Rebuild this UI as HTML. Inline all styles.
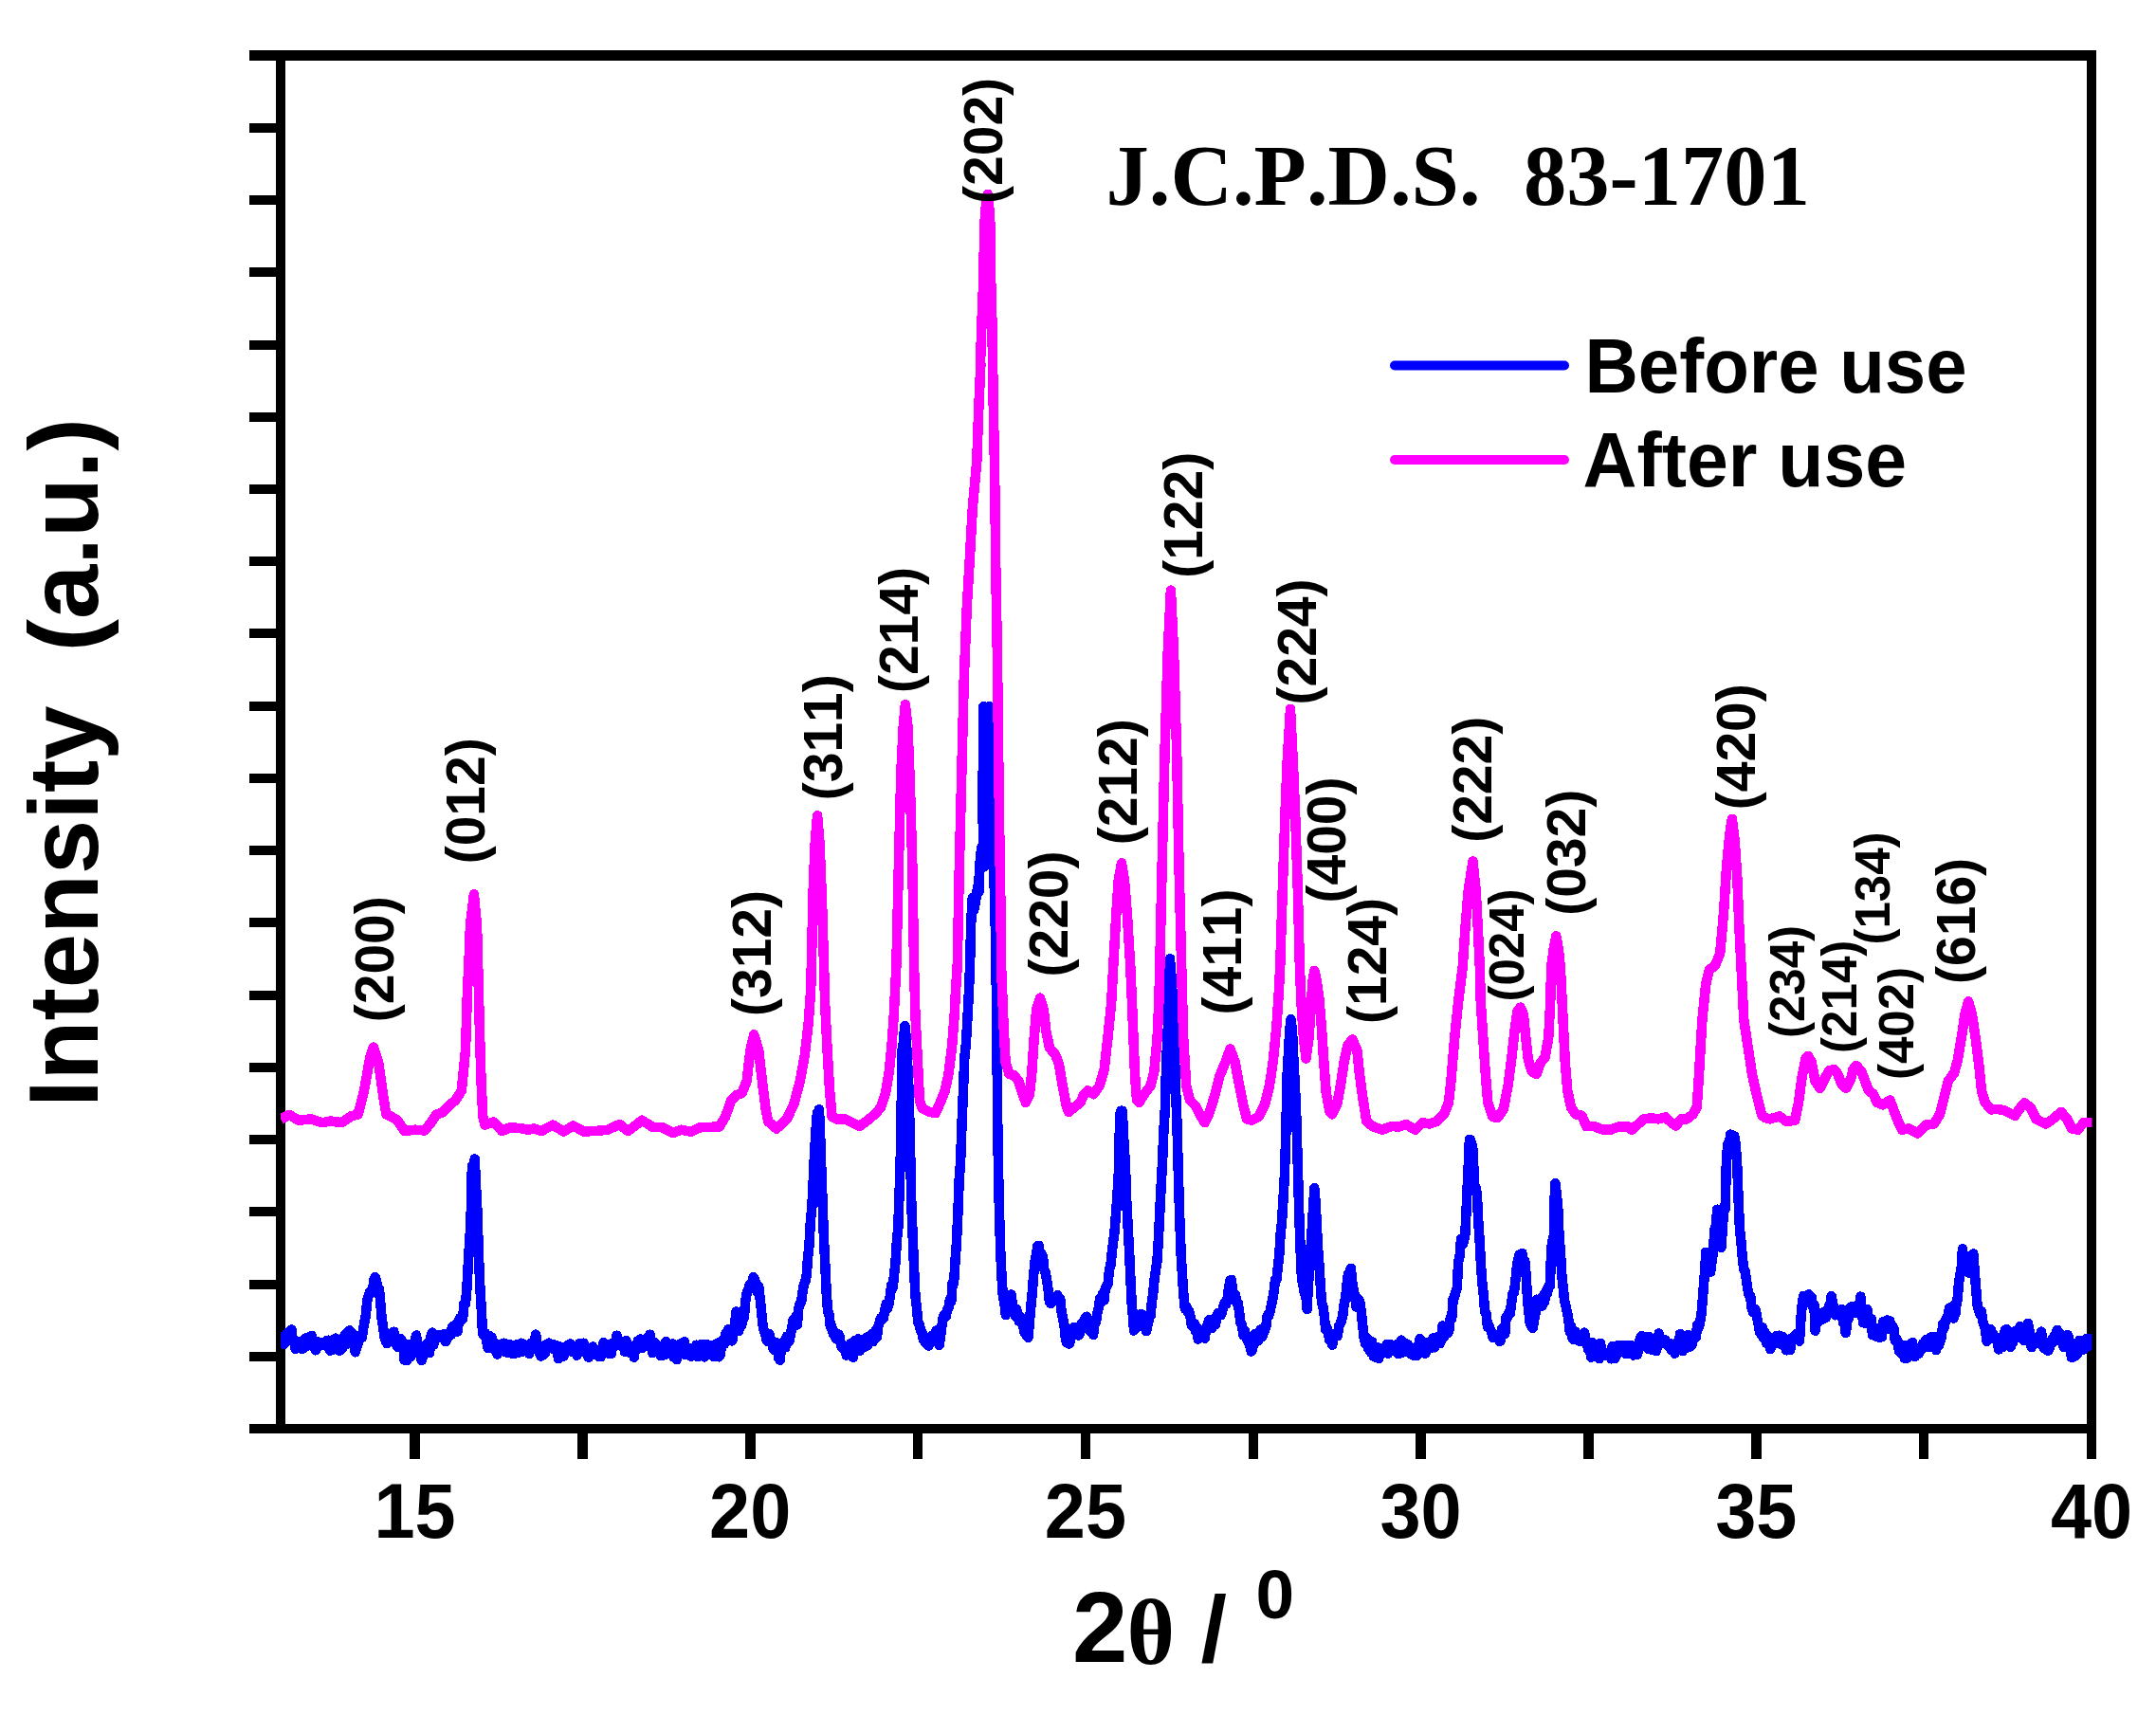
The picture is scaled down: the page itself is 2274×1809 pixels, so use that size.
<!DOCTYPE html>
<html lang="en"><head><meta charset="utf-8"><title>XRD pattern</title>
<style>html,body{margin:0;padding:0;background:#fff;overflow:hidden}svg{display:block}text{font-kerning:none}.a{font-family:"Liberation Sans",Arial,Helvetica,sans-serif;font-weight:bold;fill:#000}.s{font-family:"Liberation Serif","Times New Roman",Times,serif;font-weight:bold;fill:#000}</style></head><body>
<svg width="2274" height="1809" viewBox="0 0 2274 1809">
<rect width="2274" height="1809" fill="#fff"/>
<g fill="#000" shape-rendering="crispEdges">
<rect x="263" y="53" width="1948" height="11"/>
<rect x="263" y="1502" width="1948" height="10"/>
<rect x="291" y="53" width="10" height="1459"/>
<rect x="2201" y="53" width="10" height="1486"/>
<rect x="263" y="129.7" width="30" height="10"/>
<rect x="263" y="206.0" width="30" height="10"/>
<rect x="263" y="282.2" width="30" height="10"/>
<rect x="263" y="358.5" width="30" height="10"/>
<rect x="263" y="434.7" width="30" height="10"/>
<rect x="263" y="510.9" width="30" height="10"/>
<rect x="263" y="587.2" width="30" height="10"/>
<rect x="263" y="663.4" width="30" height="10"/>
<rect x="263" y="739.7" width="30" height="10"/>
<rect x="263" y="815.9" width="30" height="10"/>
<rect x="263" y="892.1" width="30" height="10"/>
<rect x="263" y="968.4" width="30" height="10"/>
<rect x="263" y="1044.6" width="30" height="10"/>
<rect x="263" y="1120.9" width="30" height="10"/>
<rect x="263" y="1197.1" width="30" height="10"/>
<rect x="263" y="1273.3" width="30" height="10"/>
<rect x="263" y="1349.6" width="30" height="10"/>
<rect x="263" y="1425.8" width="30" height="10"/>
<rect x="432.3" y="1507" width="10.5" height="32"/>
<rect x="609.1" y="1507" width="10.5" height="32"/>
<rect x="786.0" y="1507" width="10.5" height="32"/>
<rect x="962.8" y="1507" width="10.5" height="32"/>
<rect x="1139.7" y="1507" width="10.5" height="32"/>
<rect x="1316.5" y="1507" width="10.5" height="32"/>
<rect x="1493.4" y="1507" width="10.5" height="32"/>
<rect x="1670.2" y="1507" width="10.5" height="32"/>
<rect x="1847.1" y="1507" width="10.5" height="32"/>
<rect x="2023.9" y="1507" width="10.5" height="32"/>
</g>
<clipPath id="cp"><rect x="296" y="64" width="1910.5" height="1438"/></clipPath><g clip-path="url(#cp)">
<polyline fill="none" stroke="#0000ff" stroke-width="10.5" stroke-linejoin="round" stroke-linecap="butt" shape-rendering="crispEdges" points="296.3,1416.1 297.7,1410.3 299.1,1417.9 300.5,1417.1 301.9,1407.4 303.3,1406.2 304.7,1404.6 306.1,1413.3 307.5,1402.6 308.9,1414.7 310.3,1416.6 311.7,1423.2 313.1,1417.3 314.5,1415.3 315.9,1416.4 317.3,1415.3 318.7,1423.0 320.1,1421.8 321.5,1412.2 322.9,1420.3 324.3,1410.9 325.7,1418.8 327.1,1414.1 328.5,1408.8 329.9,1417.3 331.3,1413.7 332.7,1424.3 334.1,1422.5 335.5,1415.4 336.9,1416.1 338.3,1418.5 339.7,1416.3 341.1,1419.0 342.5,1416.9 343.9,1414.5 345.3,1420.6 346.7,1413.7 348.1,1424.7 349.5,1420.4 350.9,1423.7 352.3,1413.3 353.7,1411.6 355.1,1413.1 356.5,1414.0 357.9,1424.7 359.3,1416.1 360.7,1422.7 362.1,1415.8 363.5,1408.5 364.9,1406.5 366.3,1417.6 367.7,1403.8 369.1,1403.5 370.5,1411.9 371.9,1406.5 373.3,1418.6 374.7,1426.3 376.1,1421.1 377.5,1417.2 378.9,1411.1 380.3,1409.2 381.7,1411.1 383.1,1401.8 384.5,1393.9 385.9,1386.8 387.3,1371.6 388.7,1367.2 390.1,1362.9 391.5,1360.9 392.9,1362.7 394.3,1350.3 395.7,1347.2 397.1,1351.9 398.5,1359.0 399.9,1360.0 401.3,1374.5 402.7,1390.9 404.1,1399.5 405.5,1410.9 406.9,1414.7 408.3,1417.2 409.7,1413.9 411.1,1407.9 412.5,1406.4 413.9,1413.2 415.3,1404.7 416.7,1414.2 418.1,1418.2 419.5,1420.8 420.9,1414.4 422.3,1412.1 423.7,1413.6 425.1,1417.7 426.5,1434.5 427.9,1417.5 429.3,1434.9 430.7,1421.6 432.1,1421.6 433.5,1430.7 434.9,1424.5 436.3,1426.0 437.7,1414.0 439.1,1408.5 440.5,1420.3 441.9,1419.4 443.3,1421.8 444.7,1434.9 446.1,1430.7 447.5,1426.0 448.9,1421.6 450.3,1417.4 451.7,1418.3 453.1,1427.0 454.5,1409.8 455.9,1405.7 457.3,1418.6 458.7,1413.4 460.1,1412.4 461.5,1409.6 462.9,1407.8 464.3,1410.5 465.7,1409.3 467.1,1408.8 468.5,1407.2 469.9,1415.1 471.3,1413.1 472.7,1410.4 474.1,1408.8 475.5,1408.3 476.9,1399.9 478.3,1398.6 479.7,1402.0 481.1,1396.3 482.5,1404.5 483.9,1393.4 485.3,1390.0 486.7,1392.1 488.1,1390.9 489.5,1374.8 490.9,1375.4 492.3,1360.5 493.7,1335.7 495.1,1311.9 496.5,1288.9 497.9,1230.1 499.3,1241.8 500.7,1222.5 502.1,1251.9 503.5,1278.2 504.9,1323.4 506.3,1356.9 507.7,1380.1 509.1,1407.0 510.5,1408.8 511.9,1406.1 513.3,1415.7 514.7,1421.9 516.1,1409.2 517.5,1419.0 518.9,1411.1 520.3,1417.1 521.7,1424.1 523.1,1417.5 524.5,1428.6 525.9,1421.7 527.3,1424.7 528.7,1418.6 530.1,1417.5 531.5,1416.7 532.9,1426.3 534.3,1421.9 535.7,1418.2 537.1,1427.2 538.5,1418.4 539.9,1427.8 541.3,1419.3 542.7,1427.7 544.1,1418.6 545.5,1418.2 546.9,1426.4 548.3,1426.4 549.7,1416.7 551.1,1425.7 552.5,1418.3 553.9,1419.7 555.3,1421.2 556.7,1425.1 558.1,1428.0 559.5,1417.7 560.9,1416.3 562.3,1419.6 563.7,1413.8 565.1,1407.6 566.5,1417.4 567.9,1424.9 569.3,1427.5 570.7,1430.5 572.1,1421.0 573.5,1428.8 574.9,1427.7 576.3,1417.9 577.7,1417.3 579.1,1416.7 580.5,1417.6 581.9,1422.3 583.3,1418.1 584.7,1418.7 586.1,1419.1 587.5,1419.8 588.9,1433.2 590.3,1420.6 591.7,1420.8 593.1,1421.2 594.5,1430.5 595.9,1421.0 597.3,1420.1 598.7,1419.4 600.1,1418.3 601.5,1417.6 602.9,1425.8 604.3,1421.2 605.7,1425.8 607.1,1425.4 608.5,1429.7 609.9,1421.2 611.3,1416.9 612.7,1421.2 614.1,1421.3 615.5,1416.7 616.9,1426.9 618.3,1424.2 619.7,1430.4 621.1,1431.7 622.5,1421.9 623.9,1421.2 625.3,1420.5 626.7,1428.4 628.1,1428.6 629.5,1429.2 630.9,1425.9 632.3,1431.1 633.7,1431.2 635.1,1423.6 636.5,1416.0 637.9,1417.2 639.3,1418.1 640.7,1424.8 642.1,1427.8 643.5,1426.1 644.9,1427.8 646.3,1416.5 647.7,1418.3 649.1,1419.8 650.5,1408.7 651.9,1417.4 653.3,1417.6 654.7,1418.5 656.1,1418.9 657.5,1415.3 658.9,1425.8 660.3,1414.0 661.7,1420.6 663.1,1426.4 664.5,1419.8 665.9,1421.5 667.3,1420.3 668.7,1431.7 670.1,1421.5 671.5,1420.1 672.9,1414.3 674.3,1420.7 675.7,1412.4 677.1,1422.1 678.5,1414.5 679.9,1416.0 681.3,1416.7 682.7,1419.2 684.1,1409.5 685.5,1407.7 686.9,1421.2 688.3,1427.1 689.7,1424.0 691.1,1416.4 692.5,1418.3 693.9,1419.7 695.3,1420.8 696.7,1430.2 698.1,1430.1 699.5,1425.1 700.9,1429.1 702.3,1415.3 703.7,1427.8 705.1,1424.3 706.5,1425.1 707.9,1421.2 709.3,1417.5 710.7,1431.5 712.1,1422.3 713.5,1434.2 714.9,1428.6 716.3,1427.5 717.7,1417.4 719.1,1417.3 720.5,1426.8 721.9,1415.2 723.3,1429.2 724.7,1421.5 726.1,1422.7 727.5,1422.3 728.9,1430.6 730.3,1425.3 731.7,1429.1 733.1,1428.3 734.5,1418.7 735.9,1431.1 737.3,1426.8 738.7,1422.2 740.1,1417.8 741.5,1426.7 742.9,1431.4 744.3,1422.1 745.7,1418.1 747.1,1422.4 748.5,1426.5 749.9,1427.0 751.3,1422.6 752.7,1431.0 754.1,1418.1 755.5,1428.5 756.9,1416.7 758.3,1431.3 759.7,1429.4 761.1,1416.9 762.5,1413.3 763.9,1417.7 765.3,1406.7 766.7,1414.0 768.1,1402.2 769.5,1411.4 770.9,1412.8 772.3,1414.4 772.6,1411.1 773.7,1400.9 775.1,1397.6 776.4,1383.5 776.5,1384.0 777.9,1386.8 779.3,1403.9 780.7,1394.3 782.1,1398.5 783.5,1392.6 784.9,1389.5 786.3,1371.9 787.7,1363.9 789.1,1361.0 790.5,1355.6 791.9,1354.0 793.3,1355.3 794.7,1347.1 796.1,1350.3 797.5,1355.8 798.9,1363.1 800.3,1357.2 801.7,1369.7 803.1,1383.3 804.5,1397.6 805.9,1404.4 807.3,1407.4 808.7,1413.7 810.1,1415.2 811.5,1407.2 812.9,1413.0 814.3,1417.6 815.7,1423.2 817.1,1424.1 818.5,1416.0 819.9,1417.8 821.3,1432.8 822.7,1434.7 824.1,1419.6 825.5,1421.4 826.9,1414.6 828.3,1421.4 829.7,1409.6 831.1,1411.4 832.5,1414.7 833.9,1407.1 835.3,1400.3 836.7,1392.1 838.1,1397.8 839.5,1387.9 840.9,1397.4 842.3,1380.6 843.7,1375.1 845.1,1373.5 846.5,1363.4 847.9,1354.4 849.3,1352.0 850.7,1345.6 852.1,1325.9 853.5,1313.4 854.9,1287.6 856.3,1273.8 857.7,1246.9 859.1,1215.9 860.5,1192.9 861.9,1173.9 863.3,1174.2 863.8,1170.4 864.7,1183.9 866.1,1225.9 867.5,1265.6 868.9,1305.1 870.3,1334.1 871.7,1363.6 873.1,1383.1 874.5,1386.3 875.9,1399.7 877.3,1399.6 878.7,1406.7 880.1,1405.1 881.5,1411.9 882.9,1409.5 884.3,1407.5 885.7,1410.1 887.1,1419.7 888.5,1421.8 889.9,1422.5 891.3,1419.8 892.7,1429.6 894.1,1426.1 895.5,1422.1 896.9,1417.6 898.3,1417.9 899.7,1431.7 901.1,1414.3 902.5,1423.5 903.9,1418.4 905.3,1412.4 906.7,1424.8 908.1,1414.6 909.5,1413.3 910.9,1412.7 912.3,1420.5 913.7,1411.1 915.1,1419.0 916.5,1409.5 917.9,1413.5 919.3,1407.2 920.7,1415.1 922.1,1413.1 923.5,1403.8 924.9,1410.5 926.3,1399.5 927.7,1394.7 929.1,1390.2 930.5,1391.7 931.9,1390.1 933.3,1381.6 934.7,1375.4 936.1,1380.0 937.5,1375.1 938.9,1366.5 940.3,1355.3 941.7,1358.2 943.1,1344.1 944.5,1331.7 945.9,1308.9 947.3,1295.0 948.7,1255.0 950.1,1208.8 951.5,1107.9 952.9,1099.4 954.3,1082.1 955.7,1094.0 957.1,1120.3 958.5,1148.7 959.9,1204.6 961.3,1269.2 962.7,1304.8 964.1,1338.3 965.5,1368.1 966.9,1378.9 968.3,1394.5 969.7,1397.6 971.1,1403.4 972.5,1405.8 973.9,1413.1 975.3,1415.0 976.7,1416.8 978.1,1418.3 979.5,1419.5 980.9,1410.7 982.3,1415.7 983.7,1408.7 985.1,1408.8 986.5,1405.3 987.9,1403.3 989.3,1409.8 990.4,1418.6 990.7,1418.9 992.1,1408.9 993.5,1398.0 994.9,1388.8 996.3,1386.7 997.7,1389.0 999.1,1381.5 1000.5,1379.5 1001.9,1371.0 1003.3,1372.7 1004.7,1353.1 1006.1,1352.8 1007.5,1329.9 1008.9,1310.9 1010.3,1280.8 1011.7,1243.9 1013.1,1225.6 1014.5,1186.2 1015.9,1153.0 1017.3,1116.1 1018.7,1102.8 1020.1,1080.5 1021.5,1055.2 1022.9,1023.2 1024.3,971.2 1025.7,947.2 1027.1,960.2 1028.5,953.7 1029.9,944.1 1031.3,934.9 1032.5,940.8 1032.6,926.7 1034.0,905.0 1035.4,893.2 1036.8,896.2 1038.0,914.4 1036.6,862.5 1037.0,745.4 1038.4,745.4 1039.8,751.6 1041.2,769.0 1042.6,745.4 1043.8,745.4 1044.0,745.4 1045.4,769.0 1046.8,828.6 1048.2,916.5 1049.6,966.6 1051.0,1053.5 1052.4,1200.0 1053.8,1270.9 1055.2,1318.9 1056.6,1348.7 1058.0,1368.5 1059.4,1374.5 1060.8,1387.2 1062.2,1384.1 1063.6,1368.5 1065.0,1370.2 1066.4,1365.5 1067.8,1375.2 1069.2,1380.2 1070.6,1387.9 1072.0,1380.7 1073.4,1385.6 1074.8,1393.8 1076.2,1389.4 1077.6,1390.7 1079.0,1396.8 1080.4,1405.2 1081.8,1403.6 1083.2,1409.3 1084.5,1411.1 1084.6,1410.0 1086.0,1392.7 1087.4,1377.2 1088.8,1362.9 1090.2,1344.9 1091.6,1330.4 1093.0,1323.9 1094.4,1314.2 1095.8,1313.8 1097.2,1328.0 1098.6,1322.4 1100.0,1325.7 1101.4,1339.5 1102.8,1342.6 1104.2,1351.0 1105.6,1360.5 1107.0,1373.6 1107.0,1371.0 1108.4,1375.2 1109.8,1372.6 1111.2,1370.6 1112.6,1369.8 1114.0,1370.9 1115.4,1366.1 1116.8,1369.9 1118.2,1369.7 1119.6,1383.2 1121.0,1390.5 1122.4,1397.5 1123.8,1411.3 1125.2,1416.5 1126.6,1409.8 1128.0,1417.5 1129.4,1411.8 1130.8,1406.0 1132.2,1400.3 1133.6,1402.3 1135.0,1400.7 1136.4,1405.2 1137.8,1408.5 1139.2,1406.5 1140.6,1396.2 1142.0,1398.7 1143.4,1392.5 1144.8,1389.9 1146.2,1388.7 1147.6,1395.8 1149.0,1403.5 1150.4,1397.7 1151.8,1395.7 1153.2,1407.9 1153.4,1403.6 1154.6,1395.6 1156.0,1395.0 1157.4,1385.0 1158.8,1379.0 1160.2,1369.5 1161.6,1373.7 1163.0,1364.6 1164.4,1371.6 1165.8,1358.6 1167.2,1357.1 1168.6,1353.7 1170.0,1339.6 1171.4,1334.9 1172.8,1321.0 1174.2,1309.3 1175.6,1298.8 1177.0,1279.9 1178.4,1261.5 1179.8,1237.9 1181.2,1175.0 1182.6,1171.7 1183.5,1171.7 1184.0,1176.2 1185.4,1205.3 1186.8,1225.9 1188.2,1265.4 1189.6,1293.1 1191.0,1317.8 1192.4,1348.7 1193.8,1376.3 1195.2,1390.9 1196.0,1403.6 1196.6,1402.8 1198.0,1395.9 1199.4,1397.5 1200.8,1390.8 1202.2,1398.5 1203.6,1385.8 1205.0,1387.2 1206.4,1396.5 1207.8,1388.7 1209.2,1404.1 1210.6,1392.3 1211.1,1396.0 1212.0,1387.8 1213.4,1388.4 1214.8,1373.7 1216.2,1364.0 1217.6,1349.4 1219.0,1339.3 1220.4,1331.1 1221.8,1308.4 1223.2,1280.0 1224.6,1251.8 1226.0,1227.4 1227.4,1192.8 1228.8,1170.6 1230.2,1119.6 1231.6,1090.7 1233.0,1047.5 1234.1,1011.2 1234.4,1018.8 1235.8,1033.3 1237.2,1063.0 1238.6,1100.6 1240.0,1148.4 1241.4,1183.6 1242.8,1237.0 1244.2,1283.1 1245.6,1321.9 1247.0,1345.0 1248.4,1365.9 1249.8,1380.5 1251.2,1377.5 1252.6,1383.7 1254.0,1382.5 1255.4,1388.1 1256.8,1398.4 1258.2,1399.3 1259.6,1395.8 1261.0,1404.3 1262.4,1399.9 1263.8,1412.7 1265.2,1409.1 1266.6,1410.6 1268.0,1408.1 1269.4,1405.3 1270.8,1411.7 1272.2,1400.1 1273.6,1399.0 1275.0,1392.4 1276.4,1395.4 1277.8,1401.2 1279.2,1391.8 1280.6,1394.5 1282.0,1397.4 1283.4,1388.2 1284.8,1385.0 1286.2,1387.1 1287.6,1387.2 1289.0,1383.9 1290.4,1377.4 1291.8,1374.3 1293.2,1375.8 1294.6,1369.7 1296.0,1359.0 1297.4,1350.6 1298.8,1349.8 1300.2,1363.4 1301.6,1368.9 1303.0,1365.5 1304.4,1374.0 1305.8,1374.4 1307.2,1385.1 1308.6,1396.0 1310.0,1398.1 1311.4,1408.4 1312.8,1403.3 1314.2,1409.1 1315.6,1414.0 1317.0,1416.5 1318.4,1420.1 1319.8,1425.6 1321.2,1422.4 1322.6,1414.6 1324.0,1406.9 1325.4,1414.8 1326.8,1414.1 1328.2,1412.3 1329.6,1402.4 1331.0,1410.1 1332.4,1406.9 1333.8,1403.3 1335.2,1399.9 1336.6,1387.7 1338.0,1388.6 1339.4,1383.9 1340.8,1376.9 1342.2,1371.1 1343.6,1363.0 1345.0,1349.7 1346.4,1349.7 1347.8,1336.9 1349.2,1325.0 1350.6,1301.6 1352.0,1288.8 1353.4,1266.6 1354.8,1241.3 1356.2,1200.2 1357.6,1134.1 1359.0,1110.0 1360.4,1085.5 1361.5,1075.2 1361.8,1076.4 1363.2,1092.0 1364.6,1122.6 1366.0,1147.4 1367.4,1180.4 1368.8,1229.6 1370.2,1278.5 1371.6,1318.2 1373.0,1349.1 1374.4,1354.9 1375.8,1364.0 1377.2,1364.3 1378.6,1380.9 1378.8,1376.0 1380.0,1354.5 1381.4,1334.2 1382.8,1313.1 1384.2,1288.1 1385.6,1266.4 1386.3,1253.1 1387.0,1260.3 1388.4,1283.1 1389.8,1313.0 1391.2,1331.3 1392.6,1353.4 1394.0,1373.4 1395.4,1378.6 1396.8,1388.0 1398.2,1402.8 1399.6,1400.5 1401.0,1405.5 1402.4,1413.9 1403.8,1408.7 1405.2,1418.6 1406.6,1412.1 1408.0,1410.3 1409.4,1407.1 1410.8,1409.2 1412.2,1398.8 1413.6,1396.2 1415.0,1393.1 1416.4,1386.5 1417.8,1374.6 1419.2,1369.4 1420.6,1354.6 1422.0,1344.0 1423.4,1343.2 1424.8,1337.8 1426.2,1351.7 1427.6,1360.5 1429.0,1366.5 1430.4,1378.5 1431.8,1370.0 1433.2,1370.5 1434.6,1374.7 1436.0,1386.1 1437.4,1399.5 1438.8,1411.7 1440.2,1417.6 1441.6,1411.2 1443.0,1422.0 1444.4,1424.1 1445.8,1426.5 1447.2,1415.4 1448.6,1430.5 1450.0,1423.9 1451.4,1431.8 1452.8,1421.2 1454.2,1432.9 1455.6,1426.5 1457.0,1425.9 1458.4,1426.2 1459.8,1426.7 1461.2,1422.3 1462.6,1418.3 1464.0,1427.7 1465.4,1423.8 1466.8,1418.3 1468.2,1421.7 1469.6,1424.6 1471.0,1420.6 1472.4,1426.1 1473.8,1417.8 1475.2,1428.1 1476.6,1418.9 1478.0,1413.6 1479.4,1426.5 1480.8,1425.7 1482.2,1417.1 1483.6,1421.9 1485.0,1418.2 1486.4,1422.9 1487.8,1428.2 1489.2,1424.4 1490.6,1429.7 1492.0,1421.6 1493.4,1422.6 1494.8,1429.7 1496.2,1425.5 1497.6,1412.3 1499.0,1426.4 1500.4,1415.5 1501.8,1421.7 1503.2,1427.6 1504.6,1425.6 1506.0,1415.7 1507.4,1418.0 1508.8,1422.2 1510.2,1419.0 1511.6,1411.5 1513.0,1421.3 1514.4,1414.2 1515.8,1412.1 1517.2,1409.9 1518.6,1417.2 1520.0,1414.8 1521.4,1398.5 1522.8,1410.4 1524.2,1400.7 1525.6,1398.4 1527.0,1406.1 1528.4,1403.3 1529.8,1389.5 1531.2,1391.0 1532.6,1370.7 1534.0,1368.0 1535.4,1362.6 1536.8,1358.7 1538.2,1330.5 1539.6,1325.3 1541.0,1306.9 1542.4,1313.3 1543.8,1309.2 1545.2,1304.6 1546.6,1275.4 1548.0,1244.9 1549.4,1215.7 1549.9,1202.1 1550.8,1202.1 1552.2,1206.8 1553.6,1213.1 1555.0,1249.3 1556.4,1252.2 1557.8,1259.0 1559.2,1287.1 1560.6,1307.6 1562.0,1334.7 1563.4,1353.6 1564.8,1366.6 1566.2,1383.7 1567.6,1385.5 1569.0,1399.8 1570.4,1397.8 1571.8,1402.0 1573.2,1405.1 1574.6,1411.0 1576.0,1408.2 1577.4,1410.0 1578.8,1409.8 1580.2,1408.4 1581.6,1415.0 1583.0,1413.6 1584.4,1401.0 1585.8,1406.8 1587.2,1407.3 1588.6,1389.2 1590.0,1389.5 1591.4,1384.8 1592.8,1385.4 1594.2,1373.9 1595.6,1363.9 1597.0,1363.0 1598.4,1350.9 1599.8,1336.6 1601.2,1328.2 1602.6,1323.4 1604.0,1329.7 1605.4,1321.9 1606.8,1336.8 1608.2,1330.0 1609.6,1344.3 1611.0,1369.5 1612.4,1384.2 1613.8,1395.5 1615.2,1398.3 1616.6,1401.0 1618.0,1392.8 1619.4,1385.7 1620.8,1370.7 1622.2,1373.3 1623.6,1370.5 1625.0,1376.4 1626.4,1377.5 1627.8,1366.5 1629.2,1372.5 1630.6,1361.7 1632.0,1364.0 1633.4,1356.2 1634.8,1356.9 1636.2,1317.4 1637.6,1308.3 1639.0,1302.3 1640.0,1248.4 1640.4,1248.4 1641.8,1260.0 1643.2,1273.7 1644.6,1306.1 1646.0,1322.0 1647.4,1346.7 1648.8,1359.3 1650.2,1372.3 1651.6,1378.2 1653.0,1384.6 1654.4,1391.8 1655.8,1405.4 1657.2,1399.5 1658.6,1411.5 1660.0,1413.1 1661.4,1404.4 1662.8,1408.7 1664.2,1410.3 1665.6,1414.5 1667.0,1410.2 1668.4,1415.2 1669.8,1410.0 1671.2,1405.6 1672.6,1414.9 1674.0,1417.8 1675.4,1424.0 1676.8,1420.4 1678.2,1431.7 1679.6,1416.1 1681.0,1423.0 1682.4,1424.2 1683.8,1425.9 1685.2,1418.3 1686.6,1433.2 1688.0,1416.9 1689.4,1426.1 1690.8,1425.6 1692.2,1429.8 1693.6,1429.6 1695.0,1429.6 1696.4,1429.1 1697.8,1429.1 1699.2,1433.3 1700.6,1420.1 1702.0,1419.9 1703.4,1432.9 1704.8,1419.6 1706.2,1428.1 1707.6,1419.1 1709.0,1419.2 1710.4,1419.1 1711.8,1419.2 1713.2,1423.7 1714.6,1428.1 1716.0,1419.3 1717.4,1428.0 1718.8,1428.0 1720.2,1419.1 1721.6,1419.7 1723.0,1429.5 1724.4,1421.7 1725.8,1427.1 1727.2,1428.6 1728.6,1416.3 1730.0,1412.3 1731.4,1409.0 1732.8,1415.0 1734.2,1411.5 1735.6,1420.0 1737.0,1409.9 1738.4,1423.0 1739.8,1410.3 1741.2,1412.9 1742.6,1424.2 1744.0,1421.8 1745.4,1424.3 1746.8,1425.2 1748.2,1419.8 1749.6,1406.5 1751.0,1410.7 1752.4,1411.9 1753.8,1417.2 1755.2,1417.0 1756.6,1413.6 1758.0,1418.0 1759.4,1419.7 1760.8,1416.8 1762.2,1423.0 1763.6,1424.4 1765.0,1422.0 1766.4,1427.7 1767.8,1417.4 1769.2,1415.4 1770.6,1421.7 1772.0,1407.2 1773.4,1416.7 1774.8,1425.2 1776.2,1421.6 1777.6,1412.3 1779.0,1421.7 1780.4,1408.2 1781.8,1420.9 1783.2,1419.8 1784.6,1418.9 1786.0,1409.6 1787.4,1407.8 1788.8,1410.7 1790.2,1397.6 1791.6,1400.2 1793.0,1395.4 1794.4,1387.0 1795.8,1370.6 1797.2,1352.8 1798.6,1333.3 1799.2,1320.8 1800.0,1320.8 1801.4,1338.7 1802.8,1336.4 1804.2,1341.8 1804.2,1340.9 1805.6,1330.4 1807.0,1320.8 1808.4,1296.5 1809.8,1292.3 1811.2,1275.7 1811.7,1275.7 1812.6,1287.1 1814.0,1301.9 1815.4,1312.8 1815.5,1315.8 1816.8,1295.3 1818.2,1275.7 1819.6,1275.7 1821.0,1221.0 1822.4,1206.7 1823.8,1207.8 1825.2,1196.6 1826.6,1211.9 1828.0,1207.3 1829.4,1198.6 1830.8,1208.7 1832.2,1228.3 1833.6,1265.3 1835.0,1297.0 1836.4,1309.8 1837.8,1326.2 1839.2,1338.2 1840.6,1341.2 1842.0,1350.1 1843.4,1360.3 1844.8,1366.3 1846.2,1367.0 1847.6,1379.9 1849.0,1384.1 1850.4,1380.7 1851.8,1382.2 1853.2,1390.1 1854.6,1396.7 1856.0,1404.9 1857.4,1407.4 1858.8,1400.2 1860.2,1411.3 1861.6,1405.7 1863.0,1416.7 1864.4,1409.5 1865.8,1410.4 1867.2,1423.1 1868.6,1417.9 1870.0,1417.9 1871.4,1417.5 1872.8,1409.6 1874.2,1408.9 1875.6,1409.0 1877.0,1408.7 1878.4,1417.8 1879.8,1409.9 1881.2,1411.3 1882.6,1417.5 1884.0,1424.3 1885.4,1421.3 1886.8,1419.1 1888.2,1424.2 1889.6,1411.5 1891.0,1414.5 1892.4,1409.8 1893.8,1408.4 1895.2,1406.6 1896.6,1412.6 1898.0,1414.7 1898.2,1411.1 1899.4,1391.9 1900.8,1375.5 1902.2,1366.8 1903.6,1374.4 1905.0,1372.3 1906.4,1370.6 1907.8,1365.4 1909.2,1366.6 1910.6,1368.1 1912.0,1378.6 1913.4,1376.1 1914.5,1403.6 1914.8,1398.2 1916.2,1396.3 1917.6,1392.9 1919.0,1386.5 1920.4,1392.7 1921.8,1384.9 1923.2,1384.2 1924.6,1390.5 1926.0,1389.7 1927.4,1386.1 1928.8,1377.9 1930.2,1377.4 1931.6,1367.2 1933.0,1374.6 1934.4,1381.0 1935.8,1387.3 1937.2,1384.2 1938.6,1381.7 1940.0,1387.9 1941.4,1382.4 1942.1,1381.0 1942.8,1386.8 1944.2,1395.7 1945.6,1396.6 1946.6,1406.1 1947.0,1404.7 1948.4,1393.3 1949.8,1390.5 1951.2,1379.5 1952.1,1378.5 1952.6,1378.5 1954.0,1378.5 1955.4,1378.8 1956.8,1384.9 1958.2,1378.5 1959.6,1378.5 1960.9,1378.5 1961.0,1378.5 1962.4,1367.6 1963.8,1384.1 1965.2,1395.3 1966.6,1387.1 1968.0,1395.5 1969.4,1381.3 1970.8,1389.9 1972.2,1396.2 1973.6,1391.0 1975.0,1408.3 1976.4,1407.5 1977.8,1401.5 1979.2,1410.0 1980.6,1401.1 1982.0,1410.7 1983.4,1401.3 1984.8,1410.3 1986.2,1394.1 1987.6,1396.7 1989.0,1393.3 1990.4,1392.6 1991.8,1401.8 1993.2,1393.4 1994.6,1402.3 1996.0,1399.2 1997.4,1401.4 1998.8,1414.3 2000.2,1412.1 2001.6,1414.6 2003.0,1425.1 2004.4,1418.6 2005.8,1427.9 2007.2,1419.0 2008.6,1432.5 2010.0,1419.3 2011.4,1432.5 2012.8,1419.2 2014.2,1427.9 2015.6,1428.2 2017.0,1416.1 2018.4,1430.2 2019.8,1430.8 2021.2,1422.8 2022.6,1423.7 2024.0,1427.9 2025.4,1421.4 2026.8,1423.7 2028.2,1417.1 2029.6,1419.2 2031.0,1413.4 2032.4,1417.2 2033.8,1421.1 2035.2,1420.7 2036.6,1410.4 2038.0,1420.0 2039.4,1417.0 2040.8,1409.8 2042.2,1424.1 2043.6,1416.5 2045.0,1419.7 2046.4,1414.7 2047.8,1410.8 2049.2,1396.5 2050.6,1400.7 2052.0,1392.4 2053.4,1391.1 2054.8,1386.7 2056.2,1379.6 2057.6,1388.2 2059.0,1380.1 2060.4,1390.5 2061.8,1376.0 2062.4,1386.0 2063.2,1377.9 2064.6,1370.4 2066.0,1353.8 2067.4,1344.3 2068.8,1336.2 2069.9,1317.3 2070.2,1321.3 2071.6,1331.6 2073.0,1324.2 2074.4,1336.3 2075.8,1332.2 2077.2,1343.0 2078.6,1333.4 2080.0,1324.3 2081.2,1322.4 2081.4,1322.4 2082.8,1343.2 2084.2,1359.7 2085.6,1377.2 2087.0,1381.9 2088.4,1386.4 2089.8,1382.9 2091.2,1393.9 2092.6,1397.5 2094.0,1402.5 2095.4,1414.8 2096.8,1413.8 2098.2,1403.6 2099.6,1402.2 2101.0,1408.9 2102.4,1407.4 2103.8,1411.0 2105.2,1413.5 2106.6,1411.2 2108.0,1423.5 2109.4,1413.1 2110.8,1420.5 2112.2,1421.0 2113.6,1407.6 2115.0,1403.1 2116.4,1402.1 2117.8,1405.8 2119.2,1408.8 2120.6,1421.1 2122.0,1417.6 2123.4,1415.2 2124.8,1404.4 2126.2,1406.3 2127.6,1403.9 2129.0,1410.5 2130.4,1399.3 2131.8,1406.7 2133.2,1407.5 2134.6,1414.1 2136.0,1411.8 2137.4,1399.3 2138.8,1399.6 2138.9,1396.0 2140.2,1402.1 2141.6,1414.0 2142.6,1421.1 2143.0,1416.0 2144.4,1414.7 2145.8,1412.6 2147.2,1410.9 2148.6,1417.2 2150.0,1411.4 2151.4,1417.2 2152.8,1404.7 2154.2,1410.9 2155.6,1422.0 2157.0,1418.5 2158.4,1416.3 2159.8,1424.8 2161.2,1423.5 2162.6,1418.1 2164.0,1417.2 2165.4,1411.2 2166.8,1409.0 2168.2,1414.0 2169.6,1402.8 2171.0,1411.8 2172.4,1413.7 2173.8,1407.4 2175.2,1409.1 2176.6,1420.9 2178.0,1409.4 2179.4,1416.4 2180.8,1408.0 2182.2,1411.7 2183.6,1424.4 2185.0,1431.9 2186.4,1431.5 2187.8,1426.6 2189.2,1429.9 2190.6,1428.8 2192.0,1423.7 2193.4,1413.8 2194.8,1417.3 2196.2,1420.4 2197.6,1423.5 2199.0,1422.4 2200.4,1412.3 2201.8,1411.8 2203.2,1419.5 2204.6,1412.0 2206.0,1413.3 2206.6,1418.6"/>
<polyline fill="none" stroke="#ff00ff" stroke-width="10.5" stroke-linejoin="round" stroke-linecap="butt" shape-rendering="crispEdges" points="296.3,1180.4 305.0,1175.9 315.1,1181.7 327.6,1180.4 340.1,1184.2 348.9,1182.5 360.2,1184.2 370.2,1177.4 377.7,1175.4 384.0,1150.4 390.3,1115.3 394.0,1104.7 399.1,1120.3 404.1,1155.4 407.3,1175.4 412.8,1177.9 419.1,1181.7 426.6,1193.0 437.9,1191.7 447.9,1192.5 455.5,1183.0 460.5,1175.4 466.7,1173.4 473.0,1166.7 480.5,1160.4 486.8,1150.4 491.0,1107.7 493.0,1045.0 494.3,1020.0 496.0,976.0 499.9,943.4 503.0,976.0 504.5,1030.0 506.0,1090.0 507.5,1140.0 509.3,1177.7 511.5,1186.5 520.6,1183.5 529.4,1193.0 538.2,1189.2 548.2,1190.0 557.0,1191.7 563.3,1190.5 570.8,1193.0 583.3,1186.7 594.6,1193.5 604.6,1187.5 615.9,1193.5 628.4,1193.0 641.0,1191.7 653.5,1186.0 662.3,1193.0 677.3,1181.7 688.6,1189.2 698.6,1189.2 709.9,1195.0 718.7,1191.7 728.7,1193.7 738.7,1189.2 758.8,1188.5 765.1,1177.9 771.3,1160.4 776.4,1155.4 782.6,1152.9 787.6,1140.3 791.4,1107.7 795.2,1091.4 800.2,1107.7 803.9,1140.3 807.7,1170.4 810.2,1183.0 819.0,1190.5 830.0,1180.4 837.5,1164.2 843.8,1140.3 848.8,1112.8 852.6,1080.2 855.1,1045.1 855.8,1019.9 857.6,941.0 859.6,890.8 862.1,860.3 864.6,890.8 867.1,953.5 869.1,1019.9 870.1,1057.6 872.6,1107.7 875.1,1150.4 877.6,1177.9 882.6,1180.4 891.4,1180.4 898.9,1184.2 906.5,1188.0 915.2,1181.7 924.0,1174.2 929.0,1167.9 934.0,1152.9 937.8,1130.3 940.3,1105.2 942.8,1070.1 945.3,1019.9 947.8,915.9 950.3,815.6 952.8,765.5 954.8,743.4 957.4,765.5 959.9,828.2 962.4,915.9 964.1,1019.9 965.4,1070.1 967.9,1120.3 969.9,1160.4 972.9,1169.2 980.4,1172.9 986.7,1174.2 991.7,1162.9 996.7,1150.4 1000.5,1132.8 1004.2,1102.7 1006.7,1070.1 1008.0,1045.1 1009.7,1019.9 1011.8,915.9 1014.3,815.6 1016.8,715.3 1019.8,640.1 1022.8,589.9 1025.8,536.0 1030.3,485.9 1032.1,435.8 1034.3,385.6 1034.2,378.0 1035.4,343.0 1037.2,296.6 1038.3,238.0 1040.0,215.0 1041.8,205.0 1043.0,215.0 1044.5,238.0 1045.2,296.6 1046.5,343.0 1046.9,378.0 1047.1,385.6 1047.9,435.8 1048.9,485.9 1049.6,536.0 1050.1,589.9 1051.9,690.3 1053.1,790.6 1054.4,890.8 1055.6,966.0 1056.1,1019.9 1057.1,1045.1 1058.6,1082.7 1060.6,1120.3 1064.4,1132.8 1069.4,1134.1 1074.4,1140.3 1078.2,1152.9 1081.9,1162.9 1085.7,1155.4 1088.2,1132.8 1090.7,1095.2 1093.2,1065.1 1097.0,1052.6 1100.8,1065.1 1103.3,1087.7 1107.0,1105.2 1113.3,1112.8 1117.0,1122.8 1120.8,1145.3 1124.6,1165.4 1127.1,1172.9 1133.3,1167.9 1139.6,1162.9 1143.4,1154.1 1147.1,1150.4 1153.4,1154.1 1159.7,1145.3 1164.7,1127.8 1168.4,1095.2 1172.2,1057.6 1174.2,1019.9 1177.2,966.0 1179.7,928.4 1183.0,910.4 1186.0,928.4 1189.0,966.0 1192.3,1019.9 1194.0,1057.6 1195.5,1095.2 1197.0,1132.8 1199.0,1160.4 1201.5,1162.9 1206.0,1155.4 1213.6,1145.3 1217.3,1130.3 1220.6,1095.2 1222.3,1057.6 1223.3,1019.9 1225.6,915.9 1228.6,790.6 1231.6,690.3 1234.9,622.6 1238.1,690.3 1241.1,790.6 1243.6,915.9 1246.2,1019.9 1248.2,1095.2 1251.2,1145.3 1254.9,1160.4 1261.2,1166.7 1266.2,1176.7 1270.7,1184.2 1275.0,1175.4 1281.3,1155.4 1286.3,1135.3 1292.5,1120.3 1297.5,1106.5 1302.6,1120.3 1306.3,1140.3 1311.3,1165.4 1315.1,1180.4 1320.1,1181.7 1327.6,1177.9 1333.9,1165.4 1338.9,1145.3 1342.7,1120.3 1346.4,1082.7 1348.9,1045.1 1350.2,1019.9 1352.7,941.0 1355.2,865.8 1357.7,803.1 1361.0,747.9 1363.8,803.1 1366.4,865.8 1368.9,941.0 1370.9,1019.9 1372.5,1057.6 1375.0,1095.2 1377.5,1116.5 1380.5,1095.2 1383.0,1057.6 1384.5,1035.0 1386.3,1023.8 1388.8,1035.0 1391.3,1052.6 1393.8,1082.7 1396.3,1120.3 1398.8,1152.9 1402.6,1172.9 1405.1,1175.4 1410.1,1165.4 1413.9,1145.3 1417.6,1120.3 1421.4,1102.7 1426.4,1096.5 1431.4,1107.7 1433.9,1132.8 1437.7,1160.4 1441.4,1183.0 1447.7,1188.0 1457.7,1191.7 1467.8,1188.0 1475.3,1188.5 1482.8,1186.0 1492.8,1191.7 1500.4,1184.2 1507.9,1185.5 1515.4,1183.0 1522.9,1175.4 1527.9,1162.9 1530.4,1140.3 1534.2,1095.2 1538.0,1057.6 1542.7,1019.9 1545.5,978.6 1548.5,941.0 1553.5,908.4 1556.8,941.0 1558.8,978.6 1560.8,1019.9 1561.8,1057.6 1564.3,1095.2 1566.8,1132.8 1569.3,1162.9 1574.3,1177.9 1579.3,1179.2 1585.6,1170.4 1590.6,1145.3 1594.4,1115.3 1598.1,1082.7 1600.6,1066.4 1603.6,1062.6 1606.9,1070.1 1609.4,1095.2 1611.9,1117.8 1615.7,1130.3 1620.7,1132.8 1624.5,1121.5 1629.5,1115.3 1633.2,1095.2 1635.2,1057.6 1636.2,1019.9 1638.7,1001.1 1641.3,987.4 1643.8,1001.1 1645.8,1019.9 1648.3,1070.1 1650.8,1120.3 1653.3,1150.4 1657.0,1167.9 1662.1,1175.4 1668.3,1176.7 1673.3,1188.0 1680.9,1188.0 1690.9,1191.7 1698.4,1191.7 1707.2,1188.5 1717.2,1188.5 1721.0,1191.7 1731.0,1183.0 1734.0,1180.4 1741.5,1179.2 1749.0,1180.4 1756.6,1178.4 1762.8,1184.2 1767.8,1187.5 1772.9,1180.4 1779.1,1180.4 1785.4,1175.4 1789.7,1167.9 1791.7,1138.4 1795.4,1075.8 1799.2,1038.2 1802.9,1023.1 1809.2,1018.1 1814.2,1005.6 1818.0,963.0 1821.2,912.8 1824.3,880.2 1826.8,863.9 1829.8,887.7 1832.3,925.3 1834.3,975.5 1836.8,1025.6 1839.3,1075.8 1843.1,1100.8 1848.1,1133.4 1853.1,1156.0 1858.1,1176.0 1861.9,1179.2 1866.9,1180.4 1876.9,1177.4 1884.4,1183.0 1893.2,1181.7 1897.0,1162.9 1900.7,1135.3 1904.5,1116.5 1907.0,1114.0 1910.7,1120.3 1914.5,1140.3 1919.5,1147.9 1924.5,1137.8 1929.5,1129.1 1934.6,1128.3 1938.3,1132.8 1942.1,1142.8 1947.1,1147.9 1952.1,1137.8 1954.6,1127.8 1957.9,1124.0 1963.4,1130.3 1967.1,1140.3 1970.9,1150.4 1975.9,1154.1 1979.7,1162.9 1985.9,1165.4 1993.5,1160.4 1997.2,1170.4 2001.0,1180.4 2006.0,1191.7 2013.5,1190.5 2022.3,1195.5 2031.1,1186.7 2039.8,1185.5 2046.1,1175.4 2051.1,1155.4 2054.9,1140.3 2061.2,1131.6 2064.9,1117.8 2068.7,1095.2 2072.4,1070.1 2076.2,1056.4 2080.0,1070.1 2083.7,1095.2 2087.5,1125.3 2090.0,1150.4 2093.7,1162.9 2100.0,1170.4 2107.5,1169.9 2115.1,1171.7 2125.1,1176.7 2131.4,1167.9 2135.1,1163.4 2141.4,1167.9 2147.6,1180.4 2157.7,1185.5 2165.2,1180.4 2174.0,1172.9 2180.2,1180.4 2185.3,1190.5 2191.5,1191.7 2197.8,1184.2 2206.6,1184.2"/></g>
<text class="a" transform="translate(437.5,1622) scale(0.957,1)" font-size="81" text-anchor="middle">15</text>
<text class="a" transform="translate(791.2,1622) scale(0.957,1)" font-size="81" text-anchor="middle">20</text>
<text class="a" transform="translate(1144.9,1622) scale(0.957,1)" font-size="81" text-anchor="middle">25</text>
<text class="a" transform="translate(1498.6,1622) scale(0.957,1)" font-size="81" text-anchor="middle">30</text>
<text class="a" transform="translate(1852.3,1622) scale(0.957,1)" font-size="81" text-anchor="middle">35</text>
<text class="a" transform="translate(2206.0,1622) scale(0.957,1)" font-size="81" text-anchor="middle">40</text>
<text class="a" x="1131" y="1753" font-size="105">2</text>
<text class="s" x="1188.5" y="1755" font-size="97">θ</text>
<text class="a" x="1266.5" y="1751.5" font-size="99">/</text>
<text class="a" x="1324.5" y="1707" font-size="73">0</text>
<text class="a" transform="translate(102.6,1168) rotate(-90)" font-size="103" xml:space="preserve">Intensity  (a.u.)</text>
<text class="s" transform="translate(1166.5,215.5) scale(0.985,1)" font-size="92" xml:space="preserve">J.C.P.D.S.  83-1701</text>
<line x1="1471" y1="385.5" x2="1650" y2="385.5" stroke="#0000ff" stroke-width="10" stroke-linecap="round"/>
<line x1="1471" y1="485" x2="1650" y2="485" stroke="#ff00ff" stroke-width="10" stroke-linecap="round"/>
<text class="a" transform="translate(1671.5,414) scale(0.963,1)" font-size="81">Before use</text>
<text class="a" transform="translate(1669.5,513) scale(0.973,1)" font-size="81">After use</text>
<text class="a" transform="translate(414.7,1078.2) rotate(-90) scale(0.982,1)" font-size="58">(200)</text>
<text class="a" transform="translate(510.5,911.3) rotate(-90) scale(0.982,1)" font-size="58">(012)</text>
<text class="a" transform="translate(812.5,1072.0) rotate(-90) scale(0.982,1)" font-size="58">(312)</text>
<text class="a" transform="translate(888.2,844.2) rotate(-90) scale(0.982,1)" font-size="58">(311)</text>
<text class="a" transform="translate(967.9,730.9) rotate(-90) scale(0.982,1)" font-size="58">(214)</text>
<text class="a" transform="translate(1056.9,214.9) rotate(-90) scale(0.982,1)" font-size="58">(202)</text>
<text class="a" transform="translate(1125.8,1030.5) rotate(-90) scale(0.982,1)" font-size="58">(220)</text>
<text class="a" transform="translate(1199.0,891.3) rotate(-90) scale(0.982,1)" font-size="58">(212)</text>
<text class="a" transform="translate(1268.2,609.8) rotate(-90) scale(0.982,1)" font-size="58">(122)</text>
<text class="a" transform="translate(1309.3,1070.5) rotate(-90) scale(0.982,1)" font-size="58">(411)</text>
<text class="a" transform="translate(1388.2,743.5) rotate(-90) scale(0.982,1)" font-size="58">(224)</text>
<text class="a" transform="translate(1419.0,952.5) rotate(-90) scale(0.982,1)" font-size="58">(400)</text>
<text class="a" transform="translate(1462.0,1080.0) rotate(-90) scale(0.982,1)" font-size="58">(124)</text>
<text class="a" transform="translate(1572.7,888.8) rotate(-90) scale(0.982,1)" font-size="58">(222)</text>
<text class="a" transform="translate(1607.0,1056.6) rotate(-90) scale(0.982,1)" font-size="52">(024)</text>
<text class="a" transform="translate(1672.2,965.8) rotate(-90) scale(0.982,1)" font-size="58">(032)</text>
<text class="a" transform="translate(1851.0,854.2) rotate(-90) scale(0.982,1)" font-size="58">(420)</text>
<text class="a" transform="translate(1903.0,1095.1) rotate(-90) scale(0.982,1)" font-size="52">(234)</text>
<text class="a" transform="translate(1957.9,1110.9) rotate(-90) scale(0.982,1)" font-size="52">(214)</text>
<text class="a" transform="translate(1993.0,996.6) rotate(-90) scale(0.982,1)" font-size="52">(134)</text>
<text class="a" transform="translate(2018.0,1139.1) rotate(-90) scale(0.982,1)" font-size="52">(402)</text>
<text class="a" transform="translate(2082.5,1037.9) rotate(-90) scale(0.982,1)" font-size="58">(616)</text>
</svg></body></html>
